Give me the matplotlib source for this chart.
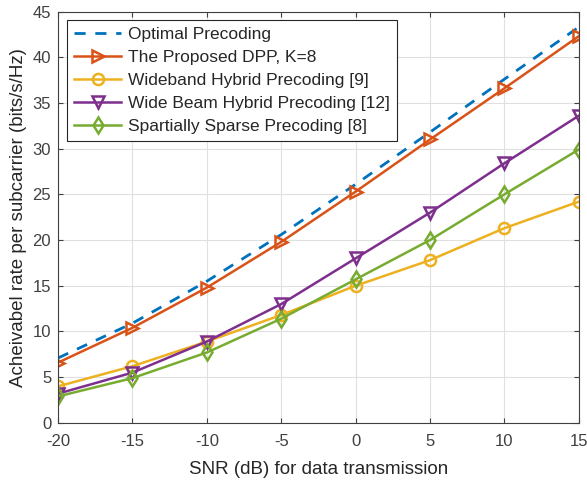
import matplotlib.pyplot as plt

plt.rcParams['font.family'] = ['Liberation Sans', 'DejaVu Sans']
plt.rcParams['axes.unicode_minus'] = False

snr = [-20, -15, -10, -5, 0, 5, 10, 15]
optimal = [7.1, 10.9, 15.5, 20.6, 26.1, 31.8, 37.6, 43.3]
proposed = [6.6, 10.4, 14.8, 19.8, 25.3, 31.0, 36.6, 42.3]
wideband = [4.0, 6.2, 8.9, 11.8, 15.0, 17.8, 21.3, 24.2]
widebeam = [3.2, 5.5, 8.9, 13.0, 18.0, 23.0, 28.4, 33.6]
sparse = [2.9, 4.9, 7.7, 11.4, 15.7, 20.0, 25.0, 29.9]

labels = ['Optimal Precoding', 'The Proposed DPP, K=8',
          'Wideband Hybrid Precoding [9]', 'Wide Beam Hybrid Precoding [12]',
          'Spartially Sparse Precoding [8]']

fig = plt.figure(figsize=(5.87, 4.8), dpi=100)
ax = fig.add_axes([0.099, 0.119, 0.887, 0.857])

ax.plot(snr, optimal, '--', color='#0072BD', lw=2, dashes=(4, 3.5), label=labels[0])
ax.plot(snr, proposed, '-', marker='>', color='#D95319', lw=1.8, ms=9,
        mfc='none', mew=1.8, label=labels[1])
ax.plot(snr, wideband, '-', marker='o', color='#EDB120', lw=1.8, ms=8,
        mfc='none', mew=1.8, label=labels[2])
ax.plot(snr, widebeam, '-', marker='v', color='#7E2F8E', lw=1.8, ms=9,
        mfc='none', mew=1.8, label=labels[3])
ax.plot(snr, sparse, '-', marker='d', color='#77AC30', lw=1.8, ms=8,
        mfc='none', mew=1.8, label=labels[4])

ax.set_xlim(-20, 15)
ax.set_ylim(0, 45)
ax.set_xticks(snr)
ax.set_yticks(range(0, 46, 5))
ax.grid(True, color='#e0e0e0', lw=0.8)
ax.set_axisbelow(True)
ax.tick_params(direction='in', top=True, right=True, labelsize=12,
               colors='#404040')
ax.tick_params(axis='x', pad=8)
ax.tick_params(axis='y', pad=5)
for s in ax.spines.values():
    s.set_color('#404040')
    s.set_linewidth(0.8)

ax.set_xlabel('SNR (dB) for data transmission', fontsize=13.5, color='#262626',
              labelpad=9)
ax.set_ylabel('Acheivabel rate per subcarrier (bits/s/Hz)', fontsize=13.5,
              color='#262626', labelpad=4)

leg = ax.legend(loc='upper left', fontsize=12.5, fancybox=False, framealpha=1,
                edgecolor='#262626', borderaxespad=0.5, handlelength=2.75,
                labelspacing=0.45, borderpad=0.4, handletextpad=0.4)
leg.get_frame().set_linewidth(0.8)
for t in leg.get_texts():
    t.set_color('#262626')

fig.savefig('out.png', dpi=100)
